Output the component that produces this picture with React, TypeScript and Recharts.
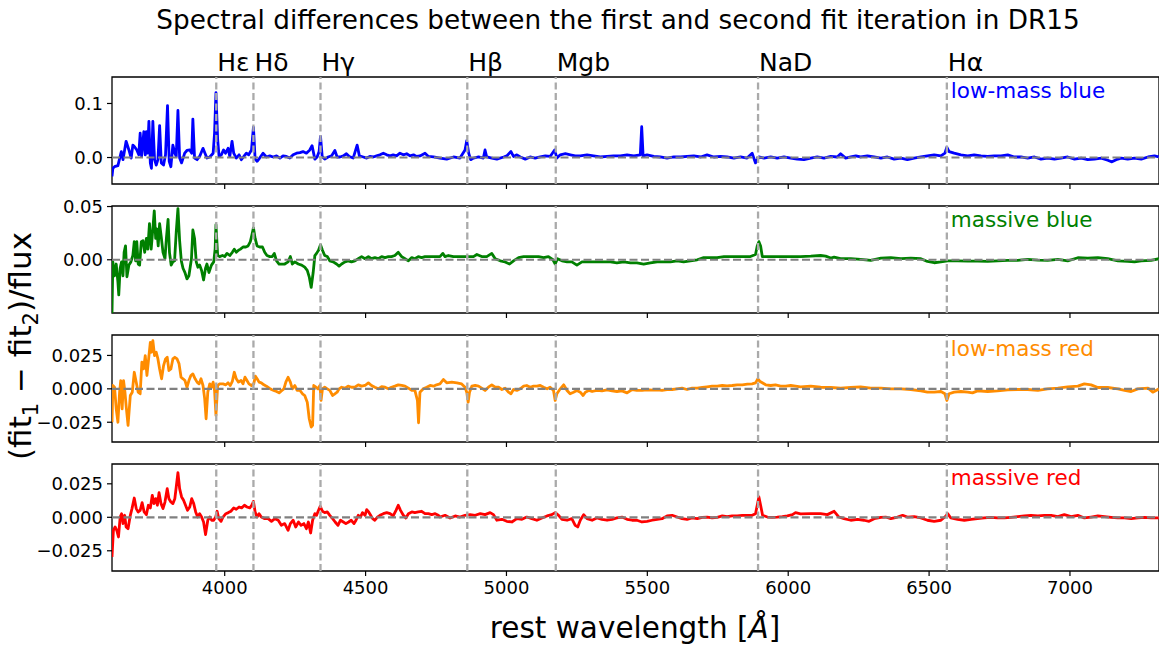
import React from "react";
import { LineChart, Line, XAxis, YAxis, ReferenceLine, ReferenceArea } from "recharts";

const FONT = "DejaVu Sans, Liberation Sans, sans-serif";

const xTicks = [4000, 4500, 5000, 5500, 6000, 6500, 7000];
const xDomain: [number, number] = [3600, 7316];

const lineNames = ["Hε", "Hδ", "Hγ", "Hβ", "Mgb", "NaD", "Hα"];
const lineWaves = [3970, 4102, 4340, 4861, 5175, 5893, 6563];

const panelNames = ["low-mass blue", "massive blue", "low-mass red", "massive red"];
const panelColors = ["#0000ff", "#008000", "#ff8c00", "#ff0000"];

const yTicksTop = [0, 0.1];
const yTicksMid = [-0.05, 0, 0.05];
const yTicksRed = [-0.025, 0, 0.025];

// [rest wavelength, (fit1 - fit2)/flux]
const lowMassBlue: [number, number][] = [
  [3600,-0.035],[3603,-0.02],[3609,-0.017],[3621,-0.015],[3633,0.011],[3639,-0.004],[3650,0.030],[3660,0.014],
  [3668,-0.001],[3674,0.023],[3680,0.020],[3688,0.014],[3695,0.005],[3700,0.045],[3705,0.002],[3713,0.048],
  [3718,0.005],[3722,0.048],[3726,0.008],[3731,0.067],[3736,-0.010],[3740,-0.020],[3745,0.067],[3751,-0.004],
  [3757,-0.014],[3763,-0.004],[3769,0.059],[3775,-0.010],[3783,-0.014],[3790,0.005],[3797,0.096],[3803,-0.007],
  [3809,-0.017],[3816,0.023],[3823,0.008],[3828,0.002],[3834,0.087],[3840,-0.001],[3847,-0.010],[3858,0.008],
  [3866,0.013],[3876,0.014],[3883,0.008],[3887,0.071],[3893,-0.001],[3902,-0.004],[3911,0.002],[3923,0.017],
  [3930,0.008],[3937,-0.001],[3947,0.001],[3959,0.008],[3964,0.045],[3969,0.120],[3975,0.033],[3980,0.002],
  [3988,0.005],[3996,0.014],[4003,0.008],[4012,0.017],[4018,0.002],[4026,0.030],[4032,0.008],[4041,-0.001],
  [4051,0.005],[4059,-0.004],[4068,0.002],[4077,0.008],[4085,0.005],[4095,0.014],[4102,0.056],[4108,-0.003],
  [4115,-0.007],[4124,-0.001],[4136,0.008],[4148,0.001],[4160,0.003],[4172,0.001],[4184,0.003],[4196,-0.001],
  [4207,0.003],[4219,0.002],[4231,-0.001],[4243,0.005],[4255,0.008],[4267,0.009],[4278,0.011],[4290,0.008],
  [4302,0.014],[4310,0.022],[4320,-0.003],[4328,0.001],[4335,0.011],[4340,0.039],[4346,0.002],[4355,-0.003],
  [4367,0.001],[4379,0.003],[4391,0.013],[4399,0.001],[4409,0.001],[4421,0.003],[4432,0.007],[4442,0.002],
  [4456,-0.001],[4470,0.023],[4478,0.003],[4492,0.001],[4504,-0.001],[4515,0.002],[4527,0.001],[4539,0.003],
  [4551,0.005],[4563,0.008],[4575,0.005],[4587,0.003],[4598,0.005],[4610,0.003],[4622,0.008],[4634,0.005],
  [4646,0.007],[4658,0.003],[4670,0.005],[4681,0.002],[4693,0.003],[4711,0.008],[4723,0.002],[4741,0.001],
  [4764,-0.001],[4788,-0.003],[4812,0.001],[4835,-0.001],[4853,0.014],[4859,0.031],[4866,0.008],[4873,-0.004],
  [4883,-0.001],[4901,0.001],[4918,-0.001],[4924,0.014],[4930,0.001],[4948,-0.001],[4966,-0.003],[4990,0.001],
  [5001,0.003],[5016,0.011],[5025,0.002],[5037,0.005],[5049,0.001],[5067,-0.003],[5084,0.001],[5102,-0.001],
  [5120,0.001],[5138,0.003],[5155,0.002],[5171,0.014],[5179,-0.001],[5191,0.005],[5209,0.007],[5227,0.005],
  [5244,0.003],[5262,0.003],[5286,0.005],[5309,0.003],[5333,0.001],[5357,0.002],[5380,0.003],[5404,0.003],
  [5428,0.005],[5452,0.003],[5475,0.005],[5480,0.057],[5485,0.003],[5499,0.005],[5523,0.002],[5546,0.001],
  [5570,-0.001],[5594,0.001],[5618,0.001],[5641,0.002],[5665,0.003],[5689,0.001],[5712,0.005],[5736,0.001],
  [5760,0.002],[5783,0.001],[5807,-0.001],[5831,0.001],[5854,-0.001],[5872,0.008],[5884,-0.010],[5896,0.001],
  [5914,-0.001],[5938,0.001],[5961,-0.001],[5985,0.001],[6009,-0.001],[6032,-0.003],[6056,-0.004],[6080,-0.001],
  [6103,0.001],[6127,-0.001],[6151,0.002],[6174,0.001],[6186,0.007],[6204,-0.001],[6222,0.001],[6240,0.003],
  [6257,0.001],[6281,0.003],[6305,0.001],[6329,-0.001],[6352,0.001],[6376,-0.003],[6400,-0.001],[6423,-0.004],
  [6447,-0.001],[6471,0.001],[6494,0.003],[6518,0.005],[6542,0.003],[6556,0.008],[6563,0.019],[6571,0.011],
  [6589,0.008],[6613,0.005],[6637,0.003],[6660,0.005],[6684,0.003],[6708,0.002],[6731,0.003],[6755,0.003],
  [6779,0.005],[6803,0.001],[6826,0.001],[6850,-0.001],[6874,0.001],[6897,-0.003],[6921,-0.001],[6945,-0.003],
  [6968,-0.001],[6992,0.001],[7016,-0.003],[7040,-0.001],[7063,-0.004],[7087,-0.003],[7111,-0.001],[7134,-0.005],
  [7149,-0.008],[7164,-0.004],[7182,-0.001],[7205,-0.003],[7229,-0.001],[7253,-0.003],[7277,0.001],[7300,0.003],
  [7316,0.001],
];

const massiveBlue: [number, number][] = [
  [3600,-0.05],[3603,-0.002],[3609,-0.015],[3615,-0.004],[3621,-0.021],[3624,-0.033],[3629,-0.008],[3634,-0.002],
  [3639,-0.015],[3643,0.007],[3648,0.013],[3653,-0.016],[3660,-0.005],[3667,-0.002],[3674,0.004],[3679,0.017],
  [3684,-0.001],[3688,0.017],[3693,-0.004],[3698,-0.005],[3704,0.017],[3710,0.018],[3716,0.007],[3722,0.020],
  [3727,0.010],[3733,0.034],[3739,0.010],[3745,0.029],[3750,0.046],[3755,0.020],[3759,0.029],[3764,0.013],
  [3769,0.034],[3775,0.021],[3781,0.007],[3788,0.001],[3793,0.020],[3799,0.038],[3804,0.007],[3810,-0.005],
  [3816,-0.002],[3822,-0.001],[3828,0.026],[3834,0.048],[3840,0.018],[3846,-0.001],[3852,-0.008],[3859,-0.012],
  [3866,-0.018],[3873,-0.015],[3882,0.001],[3887,0.028],[3893,0.020],[3899,-0.002],[3905,-0.007],[3911,-0.005],
  [3918,-0.010],[3925,-0.019],[3932,-0.008],[3937,-0.004],[3944,-0.012],[3953,-0.005],[3961,-0.002],[3966,0.010],
  [3969,0.033],[3975,0.004],[3982,0.003],[3992,0.004],[4000,0.003],[4008,0.006],[4018,0.004],[4027,0.007],
  [4034,0.010],[4041,0.007],[4049,0.009],[4056,0.010],[4065,0.012],[4075,0.012],[4083,0.013],[4091,0.017],
  [4097,0.024],[4102,0.030],[4108,0.020],[4115,0.013],[4124,0.012],[4134,0.012],[4142,0.007],[4150,0.004],
  [4160,0.003],[4169,0.003],[4176,0.006],[4184,-0.001],[4193,-0.004],[4203,-0.004],[4213,-0.004],[4225,-0.002],
  [4233,0.003],[4240,-0.004],[4249,-0.002],[4261,-0.004],[4273,-0.005],[4284,-0.007],[4293,-0.010],[4300,-0.016],
  [4307,-0.026],[4314,-0.012],[4320,0.004],[4326,0.006],[4333,0.009],[4340,0.014],[4347,0.009],[4355,0.004],
  [4364,0.003],[4373,-0.001],[4385,-0.002],[4397,-0.004],[4406,-0.006],[4415,-0.004],[4427,-0.002],[4438,-0.001],
  [4450,-0.002],[4462,-0.001],[4474,0.001],[4486,0.003],[4498,0.001],[4510,0.003],[4521,0.001],[4533,0.002],
  [4545,0.001],[4557,0.003],[4569,0.002],[4581,0.003],[4592,0.003],[4604,0.004],[4616,0.007],[4628,0.003],
  [4640,0.001],[4652,-0.001],[4664,0.002],[4675,0.001],[4687,0.003],[4699,0.002],[4711,0.003],[4723,0.003],
  [4735,0.003],[4747,0.003],[4764,0.003],[4774,0.006],[4782,0.003],[4794,0.004],[4812,0.003],[4830,0.003],
  [4847,0.003],[4865,0.003],[4883,0.003],[4895,0.005],[4912,0.003],[4930,0.003],[4948,0.006],[4960,0.001],
  [4978,-0.001],[4995,-0.002],[5011,-0.004],[5025,-0.001],[5043,0.002],[5061,0.003],[5078,0.003],[5096,0.003],
  [5114,0.003],[5132,0.002],[5149,0.003],[5165,0.0],[5173,-0.004],[5181,0.001],[5197,-0.001],[5215,-0.002],
  [5232,-0.002],[5250,-0.005],[5268,-0.002],[5286,-0.002],[5304,-0.002],[5321,-0.002],[5345,-0.002],[5369,-0.002],
  [5392,-0.003],[5416,-0.002],[5440,-0.003],[5463,-0.003],[5487,-0.004],[5511,-0.003],[5535,-0.002],[5558,-0.002],
  [5582,-0.002],[5606,-0.001],[5629,-0.002],[5653,-0.001],[5677,0.0],[5700,0.002],[5724,0.002],[5748,0.002],
  [5772,0.003],[5795,0.003],[5819,0.003],[5843,0.003],[5866,0.003],[5884,0.005],[5890,0.013],[5896,0.017],
  [5902,0.013],[5908,0.003],[5926,0.003],[5949,0.003],[5973,0.003],[5997,0.003],[6020,0.003],[6044,0.003],
  [6080,0.0034],[6115,0.004],[6133,0.0034],[6151,0.0016],[6163,0.0025],[6186,0.001],[6222,0.001],[6257,0.0003],
  [6293,-0.0006],[6329,0.0016],[6364,0.002],[6400,0.001],[6435,0.0016],[6471,0.001],[6494,-0.0016],[6518,-0.0028],
  [6542,-0.002],[6566,-0.001],[6601,-0.001],[6637,-0.0013],[6672,-0.0013],[6708,-0.0016],[6743,-0.001],[6779,-0.0006],
  [6814,-0.0006],[6850,0.0003],[6886,-0.0003],[6921,-0.0006],[6957,0.0003],[6992,-0.001],[7028,0.0019],[7063,0.0016],
  [7099,0.002],[7134,0.001],[7170,-0.001],[7205,-0.0016],[7229,-0.002],[7253,-0.001],[7288,-0.0006],[7316,0.001],
];

const lowMassRed: [number, number][] = [
  [3600,-0.025],[3603,0.0025],[3609,0.0012],[3615,-0.015],[3621,-0.025],[3627,-0.0025],[3631,0.0062],[3636,-0.015],
  [3641,0.0062],[3646,-0.0025],[3650,-0.0124],[3657,-0.0274],[3665,-0.005],[3672,-0.0025],[3679,0.0124],[3686,0.005],
  [3693,-0.0025],[3700,-0.0037],[3706,0.0199],[3712,0.0149],[3718,0.0249],[3724,0.010],[3730,0.0224],[3736,0.0348],
  [3740,0.0274],[3745,0.0361],[3751,0.0249],[3757,0.0274],[3763,0.0224],[3769,0.0149],[3776,0.0075],[3783,0.0174],
  [3790,0.0224],[3796,0.0236],[3802,0.0137],[3809,0.0149],[3816,0.0224],[3823,0.0236],[3831,0.0224],[3838,0.0187],
  [3845,0.0087],[3852,0.0075],[3859,0.0062],[3866,0.0012],[3873,0.0062],[3880,0.010],[3887,0.0112],[3895,0.0075],
  [3902,0.005],[3909,0.0037],[3916,0.0075],[3923,0.0025],[3929,-0.0075],[3934,-0.0224],[3940,-0.0025],[3947,0.0037],
  [3953,0.0012],[3959,0.005],[3964,-0.0012],[3969,-0.0199],[3975,0.0025],[3982,0.0037],[3994,0.0037],[4004,0.003],
  [4012,0.0045],[4020,0.0025],[4027,0.0055],[4034,0.0124],[4041,0.0075],[4049,0.005],[4058,0.0062],[4065,0.0037],
  [4072,0.0087],[4079,0.0062],[4086,0.0037],[4095,0.0025],[4103,0.0037],[4109,0.0095],[4115,0.0075],[4122,0.005],
  [4130,0.0045],[4139,0.003],[4148,0.002],[4158,0.0005],[4166,-0.0005],[4174,-0.0012],[4184,-0.002],[4193,-0.003],
  [4201,-0.0015],[4210,0],[4217,0.005],[4225,0.0087],[4233,0.005],[4240,0],[4249,0.0025],[4257,-0.0012],
  [4267,-0.0012],[4276,-0.0037],[4284,-0.005],[4293,-0.01],[4300,-0.0224],[4307,-0.0286],[4312,-0.0274],[4316,0.0025],
  [4324,0.0012],[4331,0],[4338,0.0025],[4342,-0.0087],[4347,0],[4355,0.0012],[4364,0],[4373,-0.0012],
  [4383,-0.005],[4391,-0.0037],[4399,-0.0025],[4406,0],[4415,0.0012],[4427,0.0005],[4438,0.002],[4450,0.0012],
  [4462,0.0012],[4474,0.003],[4486,0.002],[4498,0.0025],[4510,0.0045],[4521,0.0025],[4533,0.0012],[4545,0],
  [4557,0.0017],[4569,0.0012],[4581,0],[4592,0.0012],[4604,0.002],[4616,0.003],[4628,0.0025],[4640,0.002],
  [4652,0.0005],[4664,-0.0012],[4675,-0.0012],[4684,-0.0087],[4688,-0.0254],[4693,-0.0025],[4705,0],[4717,0.0012],
  [4729,0.0025],[4741,0.002],[4752,0.003],[4764,0.0037],[4776,0.007],[4788,0.0045],[4806,0.005],[4824,0.0045],
  [4841,0.0037],[4853,0.0012],[4859,-0.0025],[4864,-0.01],[4869,-0.0025],[4877,0.002],[4889,0.0025],[4901,0.002],
  [4912,0.0005],[4924,-0.0012],[4936,0.0012],[4948,0.003],[4960,0.0012],[4972,0.0012],[4984,-0.0005],[4995,0.0005],
  [5007,-0.0025],[5016,-0.0037],[5025,-0.0005],[5037,-0.0012],[5049,0],[5061,0.002],[5072,0.0025],[5084,0.0012],
  [5096,0.002],[5108,0.002],[5120,0.0025],[5132,0.0012],[5144,0],[5155,0.0012],[5167,-0.0012],[5173,-0.0087],
  [5179,-0.0037],[5191,0],[5203,0.003],[5215,-0.0012],[5226,-0.0037],[5238,-0.0025],[5250,-0.0012],[5262,-0.0025],
  [5272,-0.005],[5280,-0.0025],[5292,-0.0012],[5304,-0.002],[5321,-0.0012],[5339,-0.0015],[5357,-0.0007],[5375,-0.0015],
  [5392,-0.002],[5410,-0.0015],[5428,-0.003],[5446,-0.0005],[5463,-0.0012],[5481,-0.0012],[5499,-0.0007],[5517,-0.001],
  [5535,-0.0007],[5552,-0.0012],[5570,-0.0005],[5588,-0.0005],[5606,0],[5623,0.0005],[5641,-0.0005],[5659,0.0005],
  [5677,0.0005],[5695,0.001],[5712,0.0015],[5730,0.002],[5748,0.002],[5766,0.0025],[5783,0.0022],[5801,0.0025],
  [5819,0.003],[5837,0.003],[5855,0.0035],[5872,0.0037],[5884,0.0045],[5892,0.0075],[5900,0.0055],[5908,0.0045],
  [5920,0.003],[5938,0.0025],[5955,0.003],[5973,0.002],[5991,0.002],[6009,0.0025],[6026,0.002],[6044,0.0015],
  [6080,0.002],[6115,0.0012],[6151,0.001],[6186,0.0005],[6222,0.001],[6257,0.0015],[6293,0.0005],[6329,0.0005],
  [6364,0],[6400,0],[6435,-0.0005],[6471,-0.0015],[6494,-0.0025],[6518,-0.0025],[6542,-0.002],[6556,-0.0037],
  [6563,-0.0087],[6571,-0.0037],[6589,-0.0025],[6613,-0.002],[6637,-0.0025],[6654,-0.003],[6672,-0.0015],[6708,-0.002],
  [6743,-0.0015],[6779,-0.0007],[6814,-0.0005],[6850,-0.0005],[6886,-0.0012],[6921,0],[6957,0.0005],[6992,0.0015],
  [7028,0.002],[7051,0.0037],[7075,0.003],[7099,0.001],[7134,0.001],[7170,0],[7194,-0.0012],[7217,-0.002],
  [7241,0],[7277,0.0005],[7294,-0.0025],[7316,0],
];

const massiveRed: [number, number][] = [
  [3600,-0.0296],[3605,-0.0097],[3611,-0.0072],[3617,-0.0097],[3623,-0.0147],[3629,0.0002],[3634,0.0027],[3639,-0.0047],
  [3645,0.0015],[3650,-0.0072],[3657,-0.0085],[3665,0.0015],[3671,0.0065],[3679,0.0144],[3686,0.0065],[3693,0.004],
  [3700,0.0052],[3707,0.0109],[3714,0.004],[3722,0.002],[3729,0.009],[3736,0.007],[3743,0.0164],[3749,0.0102],
  [3755,0.0139],[3761,0.009],[3767,0.0184],[3774,0.0102],[3781,0.0065],[3788,0.0114],[3796,0.0214],[3802,0.0139],
  [3809,0.0114],[3816,0.0102],[3823,0.0139],[3828,0.0226],[3834,0.0333],[3840,0.0214],[3847,0.0152],[3854,0.0127],
  [3861,0.009],[3868,0.0052],[3876,0.0077],[3883,0.0139],[3890,0.0102],[3897,0.004],[3904,0.0002],[3911,0.0027],
  [3918,0.0002],[3925,-0.0035],[3932,-0.0129],[3940,-0.0022],[3947,0.0002],[3954,-0.0022],[3961,-0.0022],[3968,0.0002],
  [3973,0.0045],[3979,-0.001],[3987,-0.003],[3994,0.0002],[4004,0.0027],[4013,0.0035],[4022,0.0045],[4032,0.007],
  [4041,0.006],[4051,0.0077],[4060,0.007],[4070,0.009],[4079,0.0077],[4089,0.007],[4096,0.009],[4102,0.0119],
  [4108,0.004],[4115,0.0002],[4122,0.0027],[4130,0.0002],[4142,-0.001],[4154,-0.001],[4166,-0.003],[4178,-0.001],
  [4190,-0.0022],[4201,-0.006],[4213,-0.0047],[4225,-0.0097],[4233,-0.0047],[4243,-0.0022],[4252,-0.0072],[4262,-0.0035],
  [4271,-0.006],[4281,-0.0047],[4290,-0.0085],[4297,-0.0035],[4305,-0.0117],[4312,-0.0022],[4320,0.0027],[4326,0.0015],
  [4333,0.0052],[4339,0.0082],[4347,0.0045],[4355,0.0035],[4364,0.004],[4373,0.0015],[4383,-0.001],[4392,-0.0035],
  [4402,-0.006],[4411,-0.0022],[4421,-0.0035],[4430,-0.0047],[4440,-0.0035],[4449,-0.0022],[4459,-0.0047],[4466,-0.0022],
  [4474,0.0015],[4482,0.0002],[4489,0.0035],[4498,0.0015],[4504,0.0057],[4511,0.004],[4518,0.0015],[4525,-0.001],
  [4533,-0.0022],[4542,0.0002],[4551,0.0015],[4563,0.0027],[4575,0.0035],[4587,0.0027],[4598,0.001],[4608,0.0052],
  [4616,0.009],[4624,0.0052],[4634,0.0015],[4643,-0.0005],[4652,0.0027],[4664,0.004],[4675,0.0035],[4687,0.004],
  [4699,0.0045],[4711,0.0027],[4723,0.0027],[4735,0.002],[4747,0.0027],[4758,0.0015],[4764,0.0002],[4782,0.0015],
  [4800,-0.0005],[4818,0.001],[4835,0.0002],[4853,0.0015],[4871,0.002],[4889,0.0015],[4907,0.0027],[4924,0.002],
  [4942,0.0035],[4954,0.002],[4966,-0.0022],[4984,-0.0015],[5001,-0.003],[5019,-0.0035],[5037,-0.001],[5055,-0.0015],
  [5072,0.0002],[5090,-0.001],[5108,-0.0022],[5126,-0.0005],[5144,0.001],[5161,0.002],[5173,0.0035],[5185,0.0015],
  [5197,-0.0015],[5215,-0.0022],[5232,-0.001],[5244,-0.006],[5253,-0.0072],[5262,-0.0022],[5274,0.002],[5286,-0.001],
  [5304,-0.0022],[5321,-0.0005],[5339,-0.0015],[5357,-0.0022],[5375,-0.0015],[5392,-0.0005],[5410,0.0002],[5428,-0.0015],
  [5446,-0.0022],[5463,-0.0022],[5481,-0.0035],[5499,-0.003],[5517,-0.0022],[5535,-0.0015],[5552,-0.001],[5570,0.001],
  [5588,0.0015],[5606,0.0002],[5623,-0.001],[5641,-0.0015],[5659,-0.0005],[5677,-0.001],[5695,0],[5712,0.0002],
  [5730,-0.0005],[5748,0],[5766,0.001],[5783,0.0005],[5801,0.001],[5819,0.001],[5837,0.0015],[5855,0.0015],
  [5872,0.0015],[5884,0.0027],[5890,0.009],[5896,0.0152],[5902,0.009],[5909,0.0015],[5926,0.0002],[5943,0],
  [5961,0.0002],[5979,0.0005],[5997,0.001],[6015,0.002],[6026,0.0035],[6044,0.0025],[6080,0.0027],[6115,0.0027],
  [6139,0.002],[6163,0.0045],[6180,0.0002],[6198,-0.001],[6222,-0.0022],[6246,-0.0015],[6269,-0.0022],[6287,-0.003],
  [6305,-0.001],[6329,0],[6346,0.0002],[6364,-0.001],[6388,0.0002],[6406,0.0015],[6423,0.0002],[6447,0.0005],
  [6471,-0.0005],[6494,-0.0022],[6518,-0.003],[6542,-0.0022],[6556,0.0002],[6566,0.0027],[6577,-0.0005],[6601,-0.0015],
  [6625,-0.0022],[6649,-0.0015],[6672,-0.001],[6696,-0.0005],[6720,0],[6743,-0.0005],[6767,-0.0005],[6791,0],
  [6814,0.0005],[6838,0.001],[6862,0.0015],[6886,0.001],[6909,0.0015],[6933,0.0015],[6957,0.0005],[6980,0.002],
  [7004,0.0005],[7028,0.0015],[7051,-0.0005],[7075,0.0002],[7099,0.001],[7123,0.0005],[7146,0],[7170,-0.0005],
  [7194,-0.0005],[7217,-0.001],[7241,-0.0005],[7265,0],[7288,-0.0005],[7316,-0.0005],
];

const W = 1159;
const PLOT_H = 107;
const panelTops = [77, 205.7, 334.5, 463.6];

const fmtTick = (d: number) => (v: number) => v.toFixed(d).replace("-", "\u2212");

function LineTag(props: any) {
  const { viewBox, above, inside, color } = props;
  if (!viewBox) return null;
  const x = viewBox.x;
  const y = viewBox.y;
  return (
    <g>
      {above ? (
        <text x={x + 1} y={y - 6} fontSize={25} fill="#000" fontFamily={FONT}>
          {above}
        </text>
      ) : null}
      {inside ? (
        <text x={x + 4} y={y + 21} fontSize={21.5} fill={color} fontFamily={FONT}>
          {inside}
        </text>
      ) : null}
    </g>
  );
}

function Panel({
  index,
  data,
  yDomain,
  yTicks,
  digits,
}: {
  index: number;
  data: [number, number][];
  yDomain: [number, number];
  yTicks: number[];
  digits: number;
}) {
  const rows = data.map(([wl, v]) => ({ wl, v }));
  const first = index === 0;
  const last = index === 3;
  const mt = first ? panelTops[0] : 10;
  const xh = last ? 50 : 10;
  const top = first ? 0 : panelTops[index] - mt;
  const color = panelColors[index];
  return (
    <div style={{ position: "absolute", left: 0, top }}>
      <LineChart width={W} height={mt + PLOT_H + xh} data={rows} margin={{ top: mt, right: 0, bottom: 0, left: 0 }}>
        <XAxis
          dataKey="wl"
          type="number"
          domain={xDomain}
          ticks={xTicks}
          allowDataOverflow
          axisLine={false}
          tickLine={{ stroke: "#000", strokeWidth: 1.2 }}
          tickSize={5}
          tickMargin={5}
          height={xh}
          tickFormatter={last ? (v: number) => String(v) : () => ""}
          tick={{ fill: "#000", fontSize: 18, fontFamily: FONT }}
        />
        <YAxis
          type="number"
          domain={yDomain}
          ticks={yTicks}
          allowDataOverflow
          axisLine={false}
          tickLine={{ stroke: "#000", strokeWidth: 1.2 }}
          tickSize={5}
          tickMargin={4}
          width={112}
          tickFormatter={fmtTick(digits)}
          tick={{ fill: "#000", fontSize: 18, fontFamily: FONT }}
        />
        <Line
          dataKey="v"
          type="linear"
          stroke={color}
          strokeWidth={2.8}
          strokeLinejoin="round"
          dot={false}
          activeDot={false}
          isAnimationActive={false}
        />
        <ReferenceLine y={0} stroke="#808080" strokeWidth={2.2} strokeDasharray="8 3.5" />
        {lineWaves.map((w, i) => (
          <ReferenceLine
            key={lineNames[i]}
            x={w}
            stroke="#aaaaaa"
            strokeWidth={2.3}
            strokeDasharray="7 3.5"
            label={
              <LineTag
                above={first ? lineNames[i] : undefined}
                inside={i === lineWaves.length - 1 ? panelNames[index] : undefined}
                color={color}
              />
            }
          />
        ))}
        <ReferenceArea
          x1={xDomain[0]}
          x2={xDomain[1]}
          y1={yDomain[0]}
          y2={yDomain[1]}
          fill="none"
          stroke="#000"
          strokeWidth={1.3}
          ifOverflow="visible"
        />
      </LineChart>
    </div>
  );
}

export default function App() {
  return (
    <div style={{ position: "absolute", left: 0, top: 0, width: W, height: 645, background: "#fff", overflow: "hidden" }}>
      <Panel index={0} data={lowMassBlue} yDomain={[-0.049, 0.149]} yTicks={yTicksTop} digits={1} />
      <Panel index={1} data={massiveBlue} yDomain={[-0.05, 0.0505]} yTicks={yTicksMid} digits={2} />
      <Panel index={2} data={lowMassRed} yDomain={[-0.0398, 0.0403]} yTicks={yTicksRed} digits={3} />
      <Panel index={3} data={massiveRed} yDomain={[-0.0401, 0.0398]} yTicks={yTicksRed} digits={3} />
      <svg width={W} height={645} style={{ position: "absolute", left: 0, top: 0, pointerEvents: "none" }}>
        <text x={618} y={29} textAnchor="middle" fontSize={26.3} fontFamily={FONT} fill="#000">
          Spectral differences between the first and second fit iteration in DR15
        </text>
        <text x={635} y={638} textAnchor="middle" fontSize={29.5} fontFamily={FONT} fill="#000">
          rest wavelength [<tspan fontStyle="italic">Å</tspan>]
        </text>
        <text
          transform="translate(31,346) rotate(-90)"
          textAnchor="middle"
          fontSize={31}
          fontFamily={FONT}
          fill="#000"
        >
          (fit<tspan fontSize={21} dy={7}>1</tspan>
          <tspan dy={-7}> − fit</tspan>
          <tspan fontSize={21} dy={7}>2</tspan>
          <tspan dy={-7}>)/flux</tspan>
        </text>
      </svg>
    </div>
  );
}
